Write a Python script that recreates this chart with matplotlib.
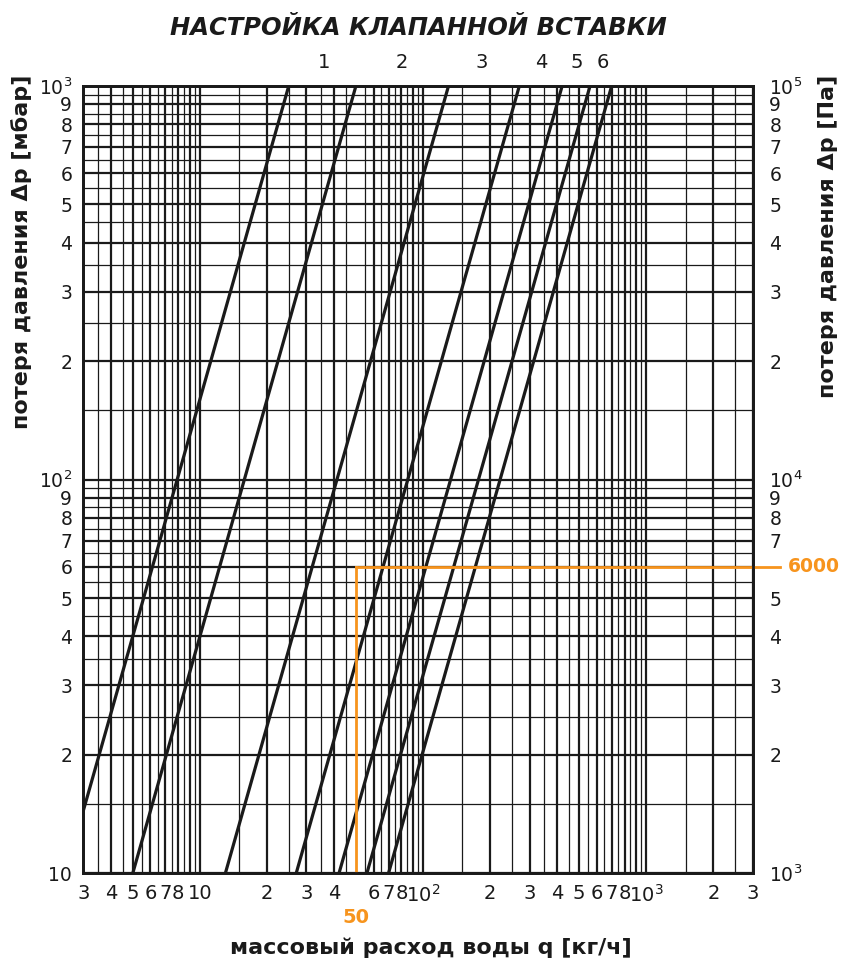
import numpy as np
import matplotlib
matplotlib.use("Agg")
import matplotlib.pyplot as plt
from matplotlib.transforms import blended_transform_factory

plt.rcParams['font.family'] = ['DejaVu Sans']
plt.rcParams['mathtext.default'] = 'regular'

# ---- data ----
# flow q [kg/h] at which each setting curve reaches 10 mbar (curves follow dp ~ q^2)
curve_q_at_10mbar = [2.5, 5.0, 13.0, 27.0, 42.0, 56.0, 70.0]
curve_labels = ["", "1", "2", "3", "4", "5", "6"]
label_q_positions = [None, 36, 80, 183, 337, 489, 640]

x_ticks = [3, 4, 5, 6, 7, 8, 10, 20, 30, 40, 60, 70, 80, 100, 200, 300, 400, 500, 600, 700, 800, 1000, 2000, 3000]
x_ticklabels = ["3", "4", "5", "6", "7", "8", "10", "2", "3", "4", "6", "7", "8", "$10^2$",
                "2", "3", "4", "5", "6", "7", "8", "$10^3$", "2", "3"]
y_ticks = [10, 20, 30, 40, 50, 60, 70, 80, 90, 100, 200, 300, 400, 500, 600, 700, 800, 900, 1000]
y_ticklabels_left = ["10", "2", "3", "4", "5", "6", "7", "8", "9", "$10^2$",
                     "2", "3", "4", "5", "6", "7", "8", "9", "$10^3$"]
y_ticklabels_right = ["$10^3$", "2", "3", "4", "5", "", "7", "8", "9", "$10^4$",
                      "2", "3", "4", "5", "6", "7", "8", "9", "$10^5$"]

example_q = 50
example_dp_mbar = 60
example_q_label = "50"
example_dp_label = "6000"

orange = "#F7941D"
ink = '#1a1a1a'

fig = plt.figure(figsize=(8.41, 9.66), dpi=100)
ax = fig.add_axes([0.099, 0.096, 0.796, 0.815])
ax.set_xscale('log')
ax.set_yscale('log')
ax.set_xlim(3, 3000)
ax.set_ylim(10, 1000)

# grid lines (half steps thin, integer steps thick)
def grid_vals(lo, hi):
    vals = []
    for dec in [1, 10, 100, 1000]:
        for m in np.arange(1.0, 10.0, 0.5):
            v = m * dec
            if lo <= v <= hi:
                vals.append((v, float(m).is_integer()))
    return vals

for v, major in grid_vals(3, 3000):
    if v == example_q:
        continue
    ax.axvline(v, color=ink, lw=1.6 if major else 0.9, zorder=1)
for v, major in grid_vals(10, 1000):
    ax.axhline(v, color=ink, lw=1.6 if major else 0.9, zorder=1)

# curves
q = np.logspace(np.log10(2), np.log10(4000), 400)
for q10 in curve_q_at_10mbar:
    ax.plot(q, 10 * (q / q10) ** 2, color=ink, lw=2.3, zorder=3)

# curve labels above the plot
trans = blended_transform_factory(ax.transData, ax.transAxes)
for lab, xq in zip(curve_labels, label_q_positions):
    if lab:
        ax.text(xq, 1.03, lab, transform=trans, ha='center', va='center', fontsize=14, color=ink)

# orange example
ax.plot([example_q, example_q], [10, example_dp_mbar], color=orange, lw=2, zorder=4)
ax.plot([example_q, 3966], [example_dp_mbar, example_dp_mbar], color=orange, lw=2, zorder=4, clip_on=False)
ax.text(example_q, -0.056, example_q_label, transform=trans, ha='center', va='center',
        fontsize=14, fontweight='bold', color=orange)
ax.text(1.092, example_dp_mbar, example_dp_label, transform=blended_transform_factory(ax.transAxes, ax.transData),
        ha='center', va='center', fontsize=13.5, fontweight='bold', color=orange)

ax.set_xticks(x_ticks)
ax.set_xticklabels(x_ticklabels, fontsize=14)
ax.xaxis.set_minor_locator(matplotlib.ticker.NullLocator())
ax.set_yticks(y_ticks)
ax.set_yticklabels(y_ticklabels_left, fontsize=13.5)
ax.yaxis.set_minor_locator(matplotlib.ticker.NullLocator())
ax.tick_params(axis='both', length=0, pad=8, colors=ink)

ax2 = ax.twinx()
ax2.set_yscale('log')
ax2.set_ylim(1000, 100000)
ax2.set_yticks([v * 100 for v in y_ticks])
ax2.set_yticklabels(y_ticklabels_right, fontsize=13.5)
ax2.yaxis.set_minor_locator(matplotlib.ticker.NullLocator())
ax2.tick_params(axis='y', length=0, pad=12, colors=ink)

for a in (ax, ax2):
    for s in a.spines.values():
        s.set_linewidth(2)
        s.set_color(ink)

fig.text(0.497, 1 - 28 / 966, "НАСТРОЙКА КЛАПАННОЙ ВСТАВКИ", ha='center', va='center',
         fontsize=17.5, fontweight='bold', fontstyle='italic', color=ink)
fig.text(0.512, 1 - 948 / 966, "массовый расход воды q [кг/ч]", ha='center', va='center',
         fontsize=16, fontweight='bold', color=ink)
fig.text(22 / 841, 1 - 75 / 966, "потеря давления Δp [мбар]", rotation=90, ha='center', va='top',
         fontsize=16, fontweight='bold', color=ink)
fig.text(828 / 841, 1 - 75 / 966, "потеря давления Δp [Па]", rotation=90, ha='center', va='top',
         fontsize=16, fontweight='bold', color=ink)

fig.savefig("out.png", dpi=100)
